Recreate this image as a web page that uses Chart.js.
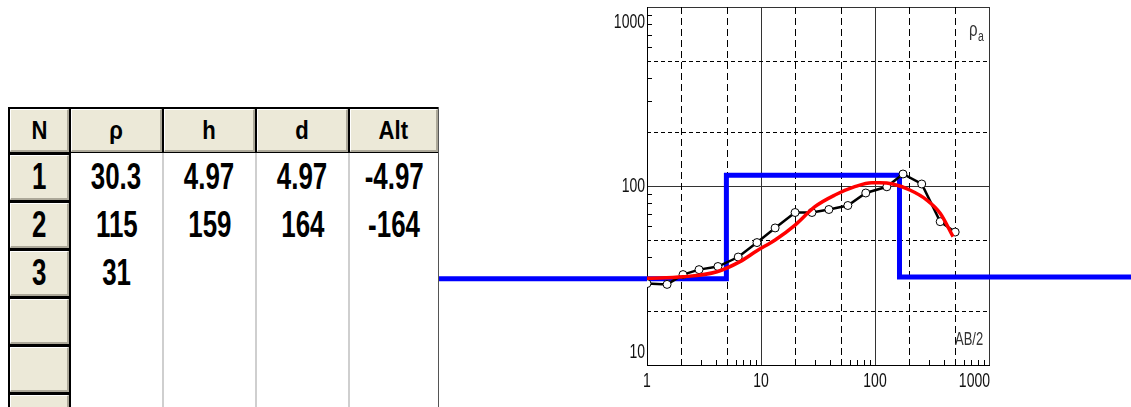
<!DOCTYPE html>
<html lang="en">
<head>
<meta charset="UTF-8">
<title>VES sounding curve</title>
<script src="https://cdn.jsdelivr.net/npm/chart.js@4.4.0/dist/chart.umd.min.js"></script>
<style>
  html, body { margin: 0; padding: 0; background: #fff; overflow: hidden; }
  body { width: 1131px; height: 407px; position: relative; font-family: "Liberation Sans", Arial, sans-serif; }
  #chartBox { position: absolute; left: 0; top: 0; width: 1131px; height: 407px; z-index: 1; }
  #grid { position: absolute; left: 8px; top: 107px; width: 431px; height: 310px; z-index: 2; background: #fff; overflow: hidden; }
  #grid div { position: absolute; box-sizing: border-box; }
  .band { background: #000; }
  .btn { background: #ece9d8; border-top: 1px solid #fff; border-left: 1px solid #fff;
         border-bottom: 2px solid #aca899; border-right: 2px solid #aca899;
         display: flex; align-items: center; justify-content: center; }
  .cell { display: flex; align-items: center; justify-content: center; }
  .sep { background: #cfcfcf; width: 2px; }
  .hd span { display: inline-block; font-weight: bold; font-size: 26px; transform: scaleX(0.85); color: #000; }
  .num span { display: inline-block; font-weight: bold; font-size: 37px; transform: scaleX(0.7); color: #000; }
</style>
</head>
<body>
<div id="chartBox"><canvas id="vesChart"></canvas></div>
<div id="grid"></div>

<script>
// layer model (table + blue step line)
const headers = ['N', 'ρ', 'h', 'd', 'Alt'];
const layerRho = [30.3, 115, 31];
const layerThick = [4.97, 159];
const layerDepth = [4.97, 164];
const layerAlt = [-4.97, -164];
const emptyRows = 3;

// field data: AB/2 and apparent resistivity
const abHalf = [1.0, 1.5, 2.07, 2.86, 4.19, 6.31, 9.22, 13.3, 19.9, 28.0, 39.4, 57.8, 83.0, 127, 176, 257, 373, 505];
const rhoApparent = [28.5, 28.2, 32.0, 34.1, 35.5, 40.1, 48.3, 58.3, 71.1, 71.1, 73.9, 77.8, 91.4, 99, 116.7, 102.6, 63.2, 55.3];

// model response curve
const fitAb = [1, 2.07, 4.11, 6.54, 9.22, 13.3, 19.9, 29.7, 44.5, 66.5, 94, 110.6, 143, 202, 285, 373, 484];
const fitRho = [30.5, 31.1, 33.2, 37.8, 43.5, 49.9, 60.5, 76.6, 89.0, 99.1, 104.3, 104.3, 102.6, 95, 83.5, 70.4, 52.1];

// axes
const xDecades = [1, 10, 100, 1000];
const yDecades = [10, 100, 1000];
const xTickLabels = ['1', '10', '100', '1000'];
const yTickLabels = ['10', '100', '1000'];
const modelXStart = 0.001;   // half-spaces run off both sides
const modelXEnd = 100000;

// ---- table ----
const colX = [0, 61, 154, 247, 340, 430];  // relative to #grid left
const headH = 46, rowH = 48;
const grid = document.getElementById('grid');
function add(cls, l, t, w, h, html) {
  const d = document.createElement('div');
  d.className = cls;
  d.style.left = l + 'px'; d.style.top = t + 'px';
  d.style.width = w + 'px'; d.style.height = h + 'px';
  if (html !== undefined) d.innerHTML = '<span>' + html + '</span>';
  grid.appendChild(d);
  return d;
}
add('band', 0, 0, 431, headH);
headers.forEach((txt, i) => {
  add('btn hd', colX[i] + 2, 2, colX[i + 1] - colX[i] - 2, headH - 3, txt);
});
add('band', 0, headH, 63, 400);
[2, 3, 4].forEach(i => add('sep', colX[i], headH, 2, 400));
add('band', 430, 0, 1, 400).style.background = '#555';

const cols = [layerRho, layerThick, layerDepth, layerAlt];
for (let r = 0; r < layerRho.length + emptyRows; r++) {
  const top = headH + r * rowH;
  add('btn num', 2, top + 2, 59, rowH - 3, r < layerRho.length ? String(r + 1) : '');
  cols.forEach((arr, c) => {
    if (r < arr.length) add('cell num', colX[c + 1] + 2, top, colX[c + 2] - colX[c + 1] - 2, rowH, String(arr[r]));
  });
}

// ---- chart ----
const fieldPts = abHalf.map((v, i) => ({ x: v, y: rhoApparent[i] }));
const fitPts = fitAb.map((v, i) => ({ x: v, y: fitRho[i] }));
const modelPts = [{ x: modelXStart, y: layerRho[0] }];
layerDepth.forEach((d, i) => modelPts.push({ x: d, y: layerRho[i + 1] }));
modelPts.push({ x: modelXEnd, y: layerRho[layerRho.length - 1] });

function drawText(ctx, txt, x, y, align, sx, base) {
  ctx.save();
  ctx.translate(x, y);
  ctx.scale(sx, 1);
  ctx.textAlign = align;
  ctx.textBaseline = base || 'middle';
  ctx.fillText(txt, 0, 0);
  ctx.restore();
}

const logGrid = {
  id: 'logGrid',
  beforeDatasetsDraw(chart) {
    const { ctx, chartArea: a, scales: { x, y } } = chart;
    ctx.save();
    ctx.strokeStyle = '#000';
    ctx.lineWidth = 1;
    // dashed lines at 2 and 5 of every decade
    ctx.setLineDash([7, 4]);
    xDecades.slice(0, -1).forEach(d => [2, 5].forEach(m => {
      const px = Math.round(x.getPixelForValue(d * m)) + 0.5;
      ctx.beginPath(); ctx.moveTo(px, a.top); ctx.lineTo(px, a.bottom); ctx.stroke();
    }));
    ctx.setLineDash([4, 3]);
    yDecades.slice(0, -1).forEach(d => [2, 5].forEach(m => {
      const py = Math.round(y.getPixelForValue(d * m)) + 0.5;
      ctx.beginPath(); ctx.moveTo(a.left, py); ctx.lineTo(a.right, py); ctx.stroke();
    }));
    // small inner ticks on the axes
    ctx.setLineDash([]);
    xDecades.slice(0, -1).forEach(d => [3, 4, 6, 7, 8, 9].forEach(m => {
      const px = Math.round(x.getPixelForValue(d * m)) + 0.5;
      ctx.beginPath(); ctx.moveTo(px, a.bottom); ctx.lineTo(px, a.bottom - 5); ctx.stroke();
    }));
    yDecades.slice(0, -1).forEach(d => [3, 4, 6, 7, 8, 9].forEach(m => {
      const py = Math.round(y.getPixelForValue(d * m)) + 0.5;
      ctx.beginPath(); ctx.moveTo(a.left, py); ctx.lineTo(a.left + 5, py); ctx.stroke();
    }));
    ctx.restore();
  },
  afterDraw(chart) {
    const { ctx, chartArea: a, scales: { x, y } } = chart;
    ctx.save();
    ctx.fillStyle = '#111';
    ctx.font = '20px "Liberation Sans", Arial, sans-serif';
    yDecades.forEach((v, i) => {
      const py = Math.min(Math.max(y.getPixelForValue(v), a.top + 15), a.bottom - 13);
      drawText(ctx, yTickLabels[i], a.left - 2, py, 'right', 0.7);
    });
    xDecades.forEach((v, i) => {
      const px = x.getPixelForValue(v);
      if (i === xDecades.length - 1) drawText(ctx, xTickLabels[i], a.right + 1, a.bottom + 16, 'right', 0.7);
      else drawText(ctx, xTickLabels[i], px, a.bottom + 16, 'center', 0.7);
    });
    // axis names
    ctx.fillStyle = '#333';
    ctx.font = '20px "Liberation Sans", Arial, sans-serif';
    drawText(ctx, 'ρ', a.right - 20, a.top + 29, 'left', 0.75, 'alphabetic');
    ctx.font = '14px "Liberation Sans", Arial, sans-serif';
    drawText(ctx, 'a', a.right - 11, a.top + 34, 'left', 0.75, 'alphabetic');
    ctx.font = '18px "Liberation Sans", Arial, sans-serif';
    drawText(ctx, 'AB/2', a.right - 34, a.bottom - 20, 'left', 0.72, 'alphabetic');
    ctx.restore();
  }
};

new Chart(document.getElementById('vesChart'), {
  type: 'line',
  data: {
    datasets: [
      {
        label: 'model',
        data: modelPts,
        borderColor: '#0000ff',
        borderWidth: 5,
        pointRadius: 0,
        stepped: 'before',
        clip: false,
        order: 3
      },
      {
        label: 'field',
        data: fieldPts,
        borderColor: '#000',
        borderWidth: 2.5,
        pointRadius: 4,
        pointBackgroundColor: '#fff',
        pointBorderColor: '#000',
        pointBorderWidth: 1,
        order: 2
      },
      {
        label: 'fit',
        data: fitPts,
        borderColor: '#ff0000',
        borderWidth: 3.5,
        pointRadius: 0,
        cubicInterpolationMode: 'monotone',
        order: 1
      }
    ]
  },
  options: {
    responsive: true,
    maintainAspectRatio: false,
    animation: false,
    devicePixelRatio: 1,
    layout: { padding: { left: 647, right: 142, top: 7, bottom: 42 } },
    plugins: { legend: { display: false }, tooltip: { enabled: false } },
    scales: {
      x: {
        type: 'logarithmic', min: 1, max: 1000,
        afterBuildTicks: s => { s.ticks = xDecades.map(v => ({ value: v })); },
        afterFit: s => { s.height = 0; },
        ticks: { display: false },
        grid: { color: '#333', lineWidth: 1, drawTicks: false },
        border: { color: '#000', width: 1 }
      },
      y: {
        type: 'logarithmic', min: 10, max: 1000,
        afterBuildTicks: s => { s.ticks = yDecades.map(v => ({ value: v })); },
        afterFit: s => { s.width = 0; },
        ticks: { display: false },
        grid: { color: '#333', lineWidth: 1, drawTicks: false },
        border: { color: '#000', width: 1 }
      }
    }
  },
  plugins: [logGrid]
});
</script>
</body>
</html>
